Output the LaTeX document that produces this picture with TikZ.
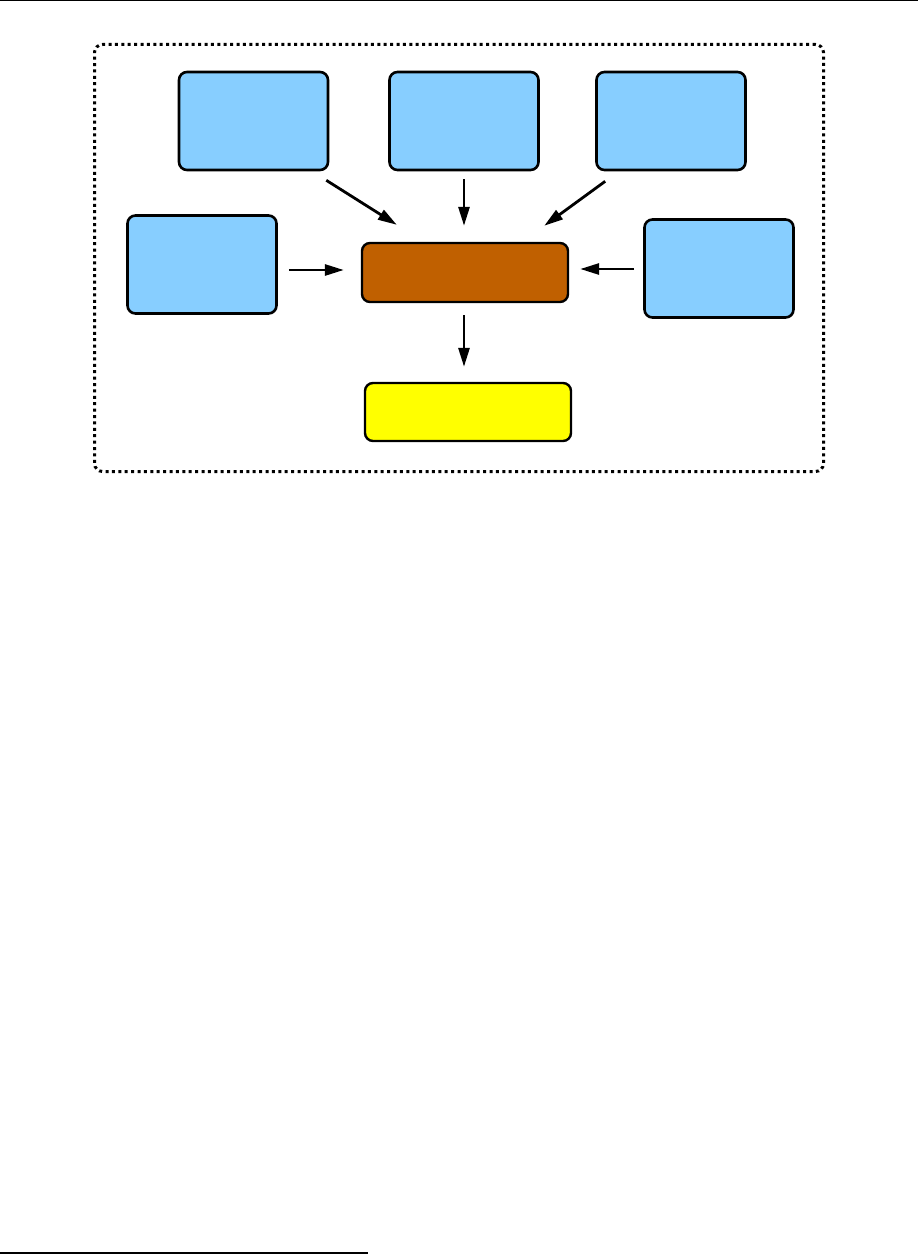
\documentclass[tikz,border=0pt]{standalone}
\usepackage{tikz}
\usetikzlibrary{arrows.meta,positioning,calc}

\definecolor{boxblue}{RGB}{135,206,255}
\definecolor{hubbrown}{RGB}{192,96,0}
\definecolor{outyellow}{RGB}{255,255,0}

\tikzset{
  srcbox/.style={draw, line width=2.6pt, rounded corners=8pt, fill=boxblue,
    minimum width=149pt, minimum height=98pt, inner sep=0pt},
  hubbox/.style={draw, line width=2.4pt, rounded corners=8pt, fill=hubbrown,
    minimum width=206pt, minimum height=59pt, inner sep=0pt},
  outbox/.style={draw, line width=2.4pt, rounded corners=8pt, fill=outyellow,
    minimum width=206pt, minimum height=58pt, inner sep=0pt},
  groupframe/.style={draw, line width=3pt, dash pattern=on 3pt off 3.4pt,
    rounded corners=8pt, minimum width=729pt, minimum height=427pt, inner sep=0pt},
  arr/.style={-{Triangle[length=19pt,width=11pt]}, line width=2.8pt},
}

\begin{document}
\begin{tikzpicture}[x=1pt,y=-1pt]
\useasboundingbox (0,0) rectangle (918,1255);
% page rules
\coordinate (hl) at (0,0.8);
\coordinate (hr) at (918,0.8);
\draw[line width=1.2pt] (hl) -- (hr);
\coordinate (fl) at (0,1253);
\coordinate (fr) at (368,1253);
\draw[line width=1.2pt] (fl) -- (fr);

% group frame
\node[groupframe] (grp) at (459,258) {};

% source boxes
\node[srcbox] (tl) at (253.5,121) {};
\node[srcbox] (tm) at (464,121) {};
\node[srcbox] (tr) at (671,121) {};
\node[srcbox] (lf) at (202,264.5) {};
\node[srcbox] (rt) at (719,268.5) {};

% hub and output
\node[hubbox] (hub) at (465,272.5) {};
\node[outbox] (out) at (468,412) {};

% connectors
\draw[arr] ($(tl.south east)+(-3,9)$) -- ($(hub.north west)+(36,-17)$);
\draw[arr, shorten <=8pt, shorten >=16pt] (tm.south) -- (tm.south |- hub.north);
\draw[arr] ($(tr.south west)+(10,10)$) -- ($(hub.north east)+(-25,-16)$);
\draw[arr, shorten <=11pt, shorten >=17pt] (lf.east |- 0,270) -- (hub.west |- 0,270);
\draw[arr, shorten <=9pt, shorten >=11pt] (rt.west |- 0,269) -- (hub.east |- 0,269);
\draw[arr, shorten <=12pt, shorten >=15pt] (hub.south -| 464,0) -- (out.north -| 464,0);
\end{tikzpicture}
\end{document}
